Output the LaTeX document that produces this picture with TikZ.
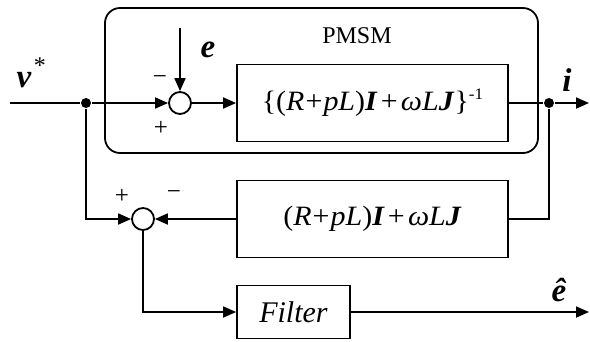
\documentclass[tikz,border=0pt]{standalone}
\usepackage{fontspec}
\setmainfont{Liberation Serif}
\usetikzlibrary{arrows.meta}
\newcommand{\bi}[1]{\textbf{\textit{#1}}}
\newcommand{\blkexpr}{(\textit{R}\kern1pt+\kern1pt\textit{pL})\bi{I}\kern3pt+\kern3pt\textit{ω}\textit{L}\bi{J}}
\begin{document}
\begin{tikzpicture}[x=1pt,y=-1pt, line width=1.8pt,
  arr/.style={-{Triangle[length=13pt,width=11pt]}},
  blk/.style={draw, rectangle, inner sep=0pt, font=\fontsize{28}{28}\selectfont},
  sumc/.style={draw, circle, minimum size=22pt, inner sep=0pt},
  jdot/.style={circle, fill, inner sep=0pt, minimum size=10pt},
  sgn/.style={font=\fontsize{25}{25}\selectfont, inner sep=0pt},
  sig/.style={font=\fontsize{33}{33}\selectfont\bfseries\itshape, inner sep=0pt}]
\useasboundingbox (0,0) rectangle (590,341);
% PMSM enclosure
\node[draw, rounded corners=15pt, minimum width=433pt, minimum height=145pt, inner sep=0pt] (pmsm) at (321.5,80.5) {};
\node[font=\fontsize{24}{24}\selectfont, inner sep=0pt] (pmsmlbl) at (357,36) {PMSM};
% blocks
\node[blk, minimum width=271pt, minimum height=77pt] (b1) at (372.5,103) {\scalebox{1.07}[1]{\{\blkexpr\}\raisebox{11pt}{\fontsize{16}{16}\selectfont -1}}};
\node[blk, minimum width=271pt, minimum height=77pt] (b2) at (372.5,219) {\scalebox{1.07}[1]{\blkexpr}};
\node[blk, minimum width=113pt, minimum height=53pt, font=\fontsize{30}{30}\selectfont] (filt) at (293.5,312) {\textit{Filter}};
% summing junctions and branch points
\node[sumc] (s1) at (180,103) {};
\node[sumc] (s2) at (143,219) {};
\node[jdot] (j1) at (86,103) {};
\node[jdot] (j2) at (549,103) {};
\coordinate (vin) at (10,103);
\coordinate (etop) at (180,28);
\coordinate (iout) at (589,103);
\coordinate (ehout) at (589,312);
% connectors
\draw (vin) -- (j1);
\draw[arr] (j1) -- (s1);
\draw[arr] (etop) -- (s1);
\draw[arr] (s1) -- (b1);
\draw (b1) -- (j2);
\draw[arr] (j2) -- (iout);
\draw (j2) |- (b2);
\draw[arr] (b2) -- (s2);
\draw[arr] (j1) |- (s2);
\draw[arr] (s2) |- (filt);
\draw[arr] (filt) -- (ehout);
% labels
\node[sig] (vlbl) at (24,80) {v};
\node[font=\fontsize{24}{24}\selectfont, inner sep=0pt] (vstar) at (40,66) {*};
\node[sig] (elbl) at (208,50) {e};
\node[sig] (ilbl) at (567,80) {i};
\node[sig] (ehlbl) at (559,290) {ê};
\node[sgn] (m1) at (160,80) {−};
\node[sgn] (p1) at (161,128) {+};
\node[sgn] (p2) at (122,196) {+};
\node[sgn] (m2) at (174,195) {−};
\end{tikzpicture}
\end{document}
